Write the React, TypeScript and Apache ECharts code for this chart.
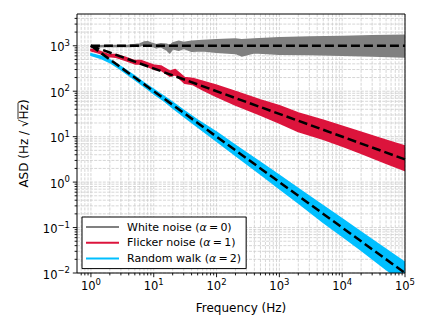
import React, { useEffect, useRef } from 'react';
import * as echarts from 'echarts';

const FONT = 'DejaVu Sans';

// axis ranges
const xMin = 0.6;
const xMax = 1e5;
const yMin = 0.01;
const yMax = 5000;

// major tick values
const xMajor = [1, 10, 100, 1000, 10000, 100000];
const yMajor = [0.01, 0.1, 1, 10, 100, 1000];

// White noise (alpha = 0) band
const whiteFreq = [1, 2, 4, 6, 7, 8, 9, 11, 13, 16, 18, 20, 25, 30, 40, 60, 100, 200, 250, 400, 1000, 3000, 10000, 30000, 100000];
const whiteLow = [950, 960, 965, 985, 1060, 1100, 1000, 900, 950, 820, 700, 860, 800, 880, 760, 780, 720, 680, 600, 700, 650, 640, 620, 600, 570];
const whiteHigh = [995, 1010, 1030, 1090, 1200, 1230, 1150, 1050, 1100, 1080, 1000, 1150, 1250, 1180, 1250, 1300, 1350, 1400, 1350, 1400, 1500, 1550, 1600, 1650, 1700];

// Flicker noise (alpha = 1) band
const flickerFreq = [1, 1.3, 1.9, 2.5, 3.5, 5, 6.4, 8, 10.4, 13, 18, 22, 31, 42, 60, 100, 200, 500, 1000, 2000, 5000, 10000, 20000, 50000, 100000];
const flickerLow = [780, 700, 580, 560, 480, 400, 400, 350, 300, 290, 215, 230, 150, 140, 108, 76, 50, 30, 20, 13, 8.8, 6.2, 4.3, 2.6, 1.8];
const flickerHigh = [840, 780, 640, 640, 560, 470, 470, 420, 370, 360, 275, 300, 200, 190, 165, 135, 98, 64, 48, 33, 23, 17, 12.5, 8.3, 6.2];

// Random walk (alpha = 2) band
const walkFreq = [1, 1.5, 2, 3, 5, 7, 10, 15, 20, 30, 50, 100, 200, 500, 1000, 2000, 5000, 10000, 20000, 50000, 100000];
const walkLow = [620, 520, 430, 300, 180, 128, 88, 60, 43, 28, 16.5, 8, 3.9, 1.5, 0.72, 0.35, 0.13, 0.065, 0.032, 0.012, 0.006];
const walkHigh = [670, 580, 490, 345, 215, 152, 110, 75, 57, 38, 23, 12.5, 6.4, 2.7, 1.4, 0.72, 0.3, 0.155, 0.079, 0.033, 0.017];

// theoretical (dashed) lines
const theoryFreq = [1, 100000];
const whiteTheory = [1000, 1000];
const flickerTheory = [1000, 3.162];
const walkTheory = [1000, 0.01];

const seriesNames = ['White noise', 'Flicker noise', 'Random walk'];
const seriesAlpha = ['0', '1', '2'];
const seriesColors = ['#808080', '#DC143C', '#00BFFF'];

function minorValues(min: number, max: number) {
  const out: number[] = [];
  for (let d = -3; d <= 6; d++) {
    for (let k = 2; k <= 9; k++) {
      const v = k * Math.pow(10, d);
      if (v > min * 1.0001 && v < max * 0.9999) out.push(v);
    }
  }
  return out;
}

const xMinor = minorValues(xMin, xMax);
const yMinor = minorValues(yMin, yMax);

function sup(e: number) {
  return e < 0 ? '\u2212' + -e : String(e);
}

function powLabel(v: number) {
  const l = Math.log10(v);
  const e = Math.round(l);
  if (Math.abs(l - e) > 1e-6) return '';
  return `{b|10}{s|${sup(e)}}`;
}

function bandSeries(idx: number, f: number[], lo: number[], hi: number[]) {
  const color = seriesColors[idx];
  return {
    type: 'custom',
    name: seriesNames[idx],
    coordinateSystem: 'cartesian2d',
    clip: true,
    silent: true,
    z: 2 + idx * 0.1,
    itemStyle: { color },
    data: [[f[0], lo[0]]],
    renderItem: (_params: any, api: any) => {
      const pts: number[][] = [];
      for (let i = 0; i < f.length; i++) pts.push(api.coord([f[i], hi[i]]));
      for (let i = f.length - 1; i >= 0; i--) pts.push(api.coord([f[i], lo[i]]));
      return {
        type: 'polygon',
        shape: { points: pts },
        style: { fill: color, stroke: color, lineWidth: 1.6, lineJoin: 'round' },
      };
    },
  };
}

function theorySeries(vals: number[]) {
  return {
    type: 'line',
    data: theoryFreq.map((f, i) => [f, vals[i]]),
    symbol: 'none',
    silent: true,
    clip: true,
    z: 6,
    lineStyle: { color: '#000', width: 2.5, type: [9, 4] },
  };
}

export default function App() {
  const ref = useRef<HTMLDivElement>(null);
  useEffect(() => {
    if (!ref.current) return;
    const chart = echarts.init(ref.current, null, { renderer: 'svg' });

    const gridSeries = {
      type: 'custom',
      coordinateSystem: 'cartesian2d',
      silent: true,
      clip: false,
      z: 1,
      data: [[1, 1]],
      renderItem: (params: any, api: any) => {
        const cs = params.coordSys;
        const top = cs.y;
        const bottom = cs.y + cs.height;
        const left = cs.x;
        const right = cs.x + cs.width;
        const children: any[] = [];
        const gridStyle = { stroke: '#cccccc', lineWidth: 0.8, lineDash: [3, 1.3] };
        [...xMajor, ...xMinor].forEach((v) => {
          const x = api.coord([v, yMin])[0];
          children.push({ type: 'line', shape: { x1: x, y1: top, x2: x, y2: bottom }, style: gridStyle });
        });
        [...yMajor, ...yMinor].forEach((v) => {
          const y = api.coord([xMin, v])[1];
          children.push({ type: 'line', shape: { x1: left, y1: y, x2: right, y2: y }, style: gridStyle });
        });
        return { type: 'group', children };
      },
    };

    const frameSeries = {
      type: 'custom',
      coordinateSystem: 'cartesian2d',
      silent: true,
      clip: false,
      z: 10,
      data: [[1, 1]],
      renderItem: (params: any, api: any) => {
        const cs = params.coordSys;
        const top = cs.y;
        const bottom = cs.y + cs.height;
        const left = cs.x;
        const right = cs.x + cs.width;
        const children: any[] = [];
        const tick = { stroke: '#000', lineWidth: 0.9 };
        xMajor.forEach((v) => {
          const x = api.coord([v, yMin])[0];
          children.push({ type: 'line', shape: { x1: x, y1: bottom, x2: x, y2: bottom + 4.2 }, style: tick });
        });
        xMinor.forEach((v) => {
          const x = api.coord([v, yMin])[0];
          children.push({ type: 'line', shape: { x1: x, y1: bottom, x2: x, y2: bottom + 2.4 }, style: tick });
        });
        yMajor.forEach((v) => {
          const y = api.coord([xMin, v])[1];
          children.push({ type: 'line', shape: { x1: left, y1: y, x2: left - 4.2, y2: y }, style: tick });
        });
        yMinor.forEach((v) => {
          const y = api.coord([xMin, v])[1];
          children.push({ type: 'line', shape: { x1: left, y1: y, x2: left - 2.4, y2: y }, style: tick });
        });
        children.push({
          type: 'rect',
          shape: { x: left, y: top, width: right - left, height: bottom - top },
          style: { fill: 'none', stroke: '#000', lineWidth: 1 },
        });
        return { type: 'group', children };
      },
    };

    const labelRich = {
      b: { fontSize: 11.5, fontFamily: FONT, color: '#000', verticalAlign: 'bottom' },
      s: { fontSize: 8.5, fontFamily: FONT, color: '#000', verticalAlign: 'bottom', padding: [0, 0, 6, 0] },
    };

    const option: any = {
      animation: false,
      backgroundColor: '#fff',
      grid: { left: 77, right: 25, top: 14, bottom: 60, containLabel: false },
      xAxis: {
        type: 'log',
        logBase: 10,
        min: xMin,
        max: xMax,
        axisLine: { show: false },
        axisTick: { show: false },
        splitLine: { show: false },
        minorTick: { show: false },
        axisLabel: { formatter: powLabel, margin: 4, rich: labelRich, showMinLabel: true, showMaxLabel: true },
        name: 'Frequency (Hz)',
        nameLocation: 'middle',
        nameGap: 29,
        nameTextStyle: { fontSize: 12, fontFamily: FONT, color: '#000' },
      },
      yAxis: {
        type: 'log',
        logBase: 10,
        min: yMin,
        max: yMax,
        axisLine: { show: false },
        axisTick: { show: false },
        splitLine: { show: false },
        minorTick: { show: false },
        axisLabel: { formatter: powLabel, margin: 7, rich: labelRich, showMinLabel: true, showMaxLabel: true },
      },
      legend: {
        orient: 'vertical',
        left: 82,
        top: 217,
        padding: [3, 5, 3, 4],
        itemGap: 1.8,
        itemWidth: 33,
        itemHeight: 2,
        backgroundColor: '#fff',
        borderColor: '#000',
        borderWidth: 1,
        borderRadius: 0,
        selectedMode: false,
        z: 8,
        data: seriesNames.map((n, i) => ({ name: n, icon: 'rect', itemStyle: { color: seriesColors[i] } })),
        formatter: (name: string) => {
          const i = seriesNames.indexOf(name);
          return `{t|${name} (}{a|\u03b1}{t|\u2009=\u2009${seriesAlpha[i]})}`;
        },
        textStyle: {
          fontFamily: FONT,
          fontSize: 11,
          color: '#000',
          lineHeight: 14,
          padding: [0, 0, 0, 3],
          rich: {
            t: { fontSize: 11, fontFamily: FONT, color: '#000', lineHeight: 14 },
            a: { fontSize: 11, fontFamily: FONT, fontStyle: 'italic', color: '#000', lineHeight: 14 },
          },
        },
      },
      graphic: [
        {
          type: 'text',
          x: 24,
          y: 143.5,
          rotation: Math.PI / 2,
          style: {
            text: 'ASD (Hz / \u221aHz)',
            font: `12px "${FONT}"`,
            fill: '#000',
            align: 'center',
            verticalAlign: 'middle',
          },
        },
        {
          type: 'line',
          shape: { x1: 18, y1: 103, x2: 18, y2: 119 },
          style: { stroke: '#000', lineWidth: 0.8 },
        },
      ],
      series: [
        gridSeries,
        bandSeries(0, whiteFreq, whiteLow, whiteHigh),
        bandSeries(1, flickerFreq, flickerLow, flickerHigh),
        bandSeries(2, walkFreq, walkLow, walkHigh),
        theorySeries(whiteTheory),
        theorySeries(flickerTheory),
        theorySeries(walkTheory),
        frameSeries,
      ],
    };
    chart.setOption(option);
    return () => chart.dispose();
  }, []);
  return <div ref={ref} style={{ width: 430, height: 333, position: 'absolute', left: 0, top: 0 }} />;
}
